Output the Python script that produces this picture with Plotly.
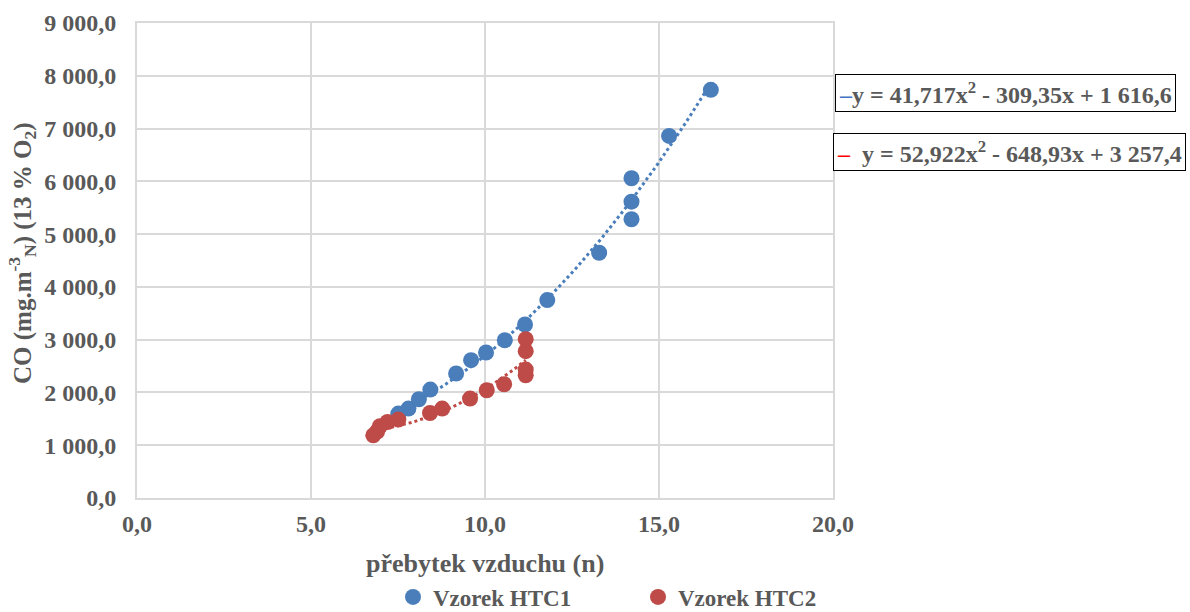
import numpy as np
import plotly.graph_objects as go

# Measured points: excess air (n) vs. CO concentration
htc1_x = [7.51, 7.80, 8.10, 8.43, 9.17, 9.60, 10.03, 10.57, 11.15, 11.79, 13.28, 14.21, 14.21, 14.21, 15.29, 16.49]
htc1_y = [1600, 1694, 1871, 2055, 2359, 2611, 2757, 2989, 3288, 3750, 4647, 5281, 5615, 6059, 6861, 7734]

htc2_x = [6.79, 6.90, 6.98, 7.20, 7.51, 8.42, 8.77, 9.57, 10.05, 10.55, 11.17, 11.17, 11.17, 11.17]
htc2_y = [1188, 1260, 1359, 1440, 1486, 1611, 1694, 1884, 2042, 2155, 2326, 2434, 2782, 3009]

# Quadratic trendline coefficients (a, b, c) for y = a*x^2 + b*x + c
htc1_coef = [41.717, -309.35, 1616.6]
htc2_coef = [52.922, -648.93, 3257.4]

series_names = ["Vzorek HTC1", "Vzorek HTC2"]
equation_texts = [
    "y = 41,717x<sup>2</sup> - 309,35x + 1 616,6",
    "y = 52,922x<sup>2</sup> - 648,93x + 3 257,4",
]
x_title = "přebytek vzduchu (n)"
y_title = "CO (mg.m<sup>-3</sup><sub>N</sub>) (13 % O<sub>2</sub>)"

x_ticks = [0, 5, 10, 15, 20]
x_ticktext = ["0,0", "5,0", "10,0", "15,0", "20,0"]
y_ticks = [0, 1000, 2000, 3000, 4000, 5000, 6000, 7000, 8000, 9000]
y_ticktext = ["0,0", "1 000,0", "2 000,0", "3 000,0", "4 000,0",
              "5 000,0", "6 000,0", "7 000,0", "8 000,0", "9 000,0"]

BLUE = "#4A7EBB"
RED = "#BE4B48"
TEXT = "#595959"
GRID = "#D9D9D9"
FONT = "Liberation Serif"

# plot area in pixels
L, R, T, B = 137, 357, 23, 114
W, H = 1190, 612
PW, PH = W - L - R, H - T - B

fig = go.Figure()


def trend(coef, xs):
    xs = np.linspace(min(xs), max(xs), 120)
    a, b, c = coef
    return xs, a * xs ** 2 + b * xs + c


for xs, coef, color in [
    (htc1_x, htc1_coef, BLUE),
    (htc2_x, htc2_coef, RED),
]:
    tx, ty = trend(coef, xs)
    fig.add_trace(go.Scatter(
        x=tx, y=ty, mode="lines", showlegend=False, hoverinfo="skip",
        line=dict(color=color, width=3, dash="dot"),
    ))

for xs, ys, color, name in [
    (htc1_x, htc1_y, BLUE, series_names[0]),
    (htc2_x, htc2_y, RED, series_names[1]),
]:
    fig.add_trace(go.Scatter(
        x=xs, y=ys, mode="markers", name=name,
        marker=dict(color=color, size=16, line=dict(width=0)),
    ))

# Equation labels for the two trendlines
eq_font = dict(family=FONT, size=24, color=TEXT, weight="bold")
fig.add_annotation(
    xref="paper", yref="paper", x=1.003, y=0.852, xanchor="left", yanchor="middle",
    text="<span style='color:#4472C4'>–</span>" + equation_texts[0],
    showarrow=False, font=eq_font,
    bordercolor="#000000", borderwidth=1, borderpad=3, bgcolor="white",
)
fig.add_annotation(
    xref="paper", yref="paper", x=1.0, y=0.728, xanchor="left", yanchor="middle",
    text="<span style='color:#FF0000'>–</span>  " + equation_texts[1],
    showarrow=False, font=eq_font,
    bordercolor="#000000", borderwidth=1, borderpad=3, bgcolor="white",
)

# Axis titles
fig.add_annotation(
    xref="paper", yref="paper", x=0.5, y=(H - B - 563) / PH,
    xanchor="center", yanchor="middle", showarrow=False, text=x_title,
    font=dict(family=FONT, size=26, color=TEXT, weight="bold"),
)
fig.add_annotation(
    xref="paper", yref="paper", x=(22 - L) / PW, y=(H - B - 253) / PH,
    xanchor="center", yanchor="middle", showarrow=False, text=y_title,
    textangle=-90,
    font=dict(family=FONT, size=25, color=TEXT, weight="bold"),
)

fig.update_layout(
    width=W, height=H,
    margin=dict(l=L, r=R, t=T, b=B),
    paper_bgcolor="white", plot_bgcolor="white",
    font=dict(family=FONT, size=21, color=TEXT),
    showlegend=True,
    legend=dict(
        orientation="h", x=(393 - L) / PW, xref="paper",
        y=(H - 597) / H, yref="container",
        xanchor="left", yanchor="middle", entrywidth=200,
        font=dict(family=FONT, size=23, color=TEXT, weight="bold"),
    ),
    xaxis=dict(
        range=[0, 20], tickvals=x_ticks, ticktext=x_ticktext,
        showgrid=True, gridcolor=GRID, gridwidth=2,
        showline=True, linecolor=GRID, linewidth=2, mirror=True,
        zeroline=False, ticks="", ticklabelstandoff=3, automargin=False,
        tickfont=dict(family=FONT, size=24, color=TEXT, weight="bold"),
    ),
    yaxis=dict(
        range=[0, 9000], tickvals=y_ticks, ticktext=y_ticktext,
        showgrid=True, gridcolor=GRID, gridwidth=2,
        showline=True, linecolor=GRID, linewidth=2, mirror=True,
        zeroline=False, ticks="", ticklabelstandoff=14, automargin=False,
        tickfont=dict(family=FONT, size=24, color=TEXT, weight="bold"),
    ),
)

fig.write_html("out.html")
